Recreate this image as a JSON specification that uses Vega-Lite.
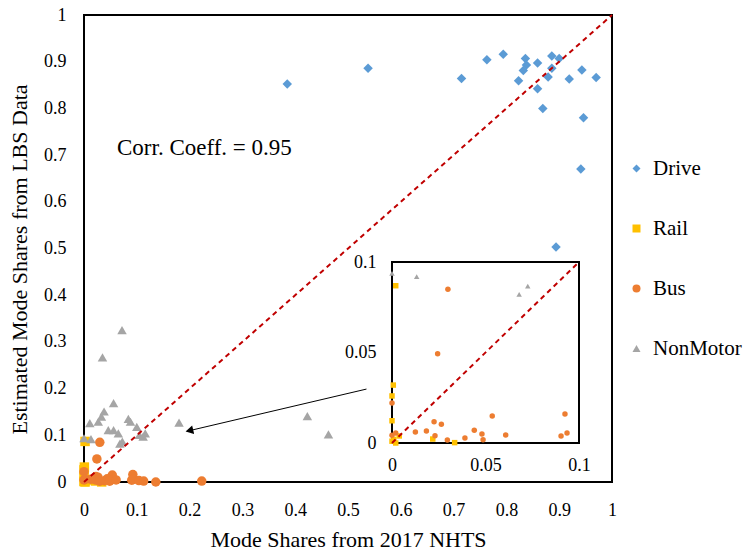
{
  "$schema": "https://vega.github.io/schema/vega-lite/v6.json",
  "width": 528,
  "height": 467,
  "autosize": "none",
  "padding": {"left": 84, "top": 15, "right": 139, "bottom": 70},
  "background": "white",
  "config": {
    "font": "Liberation Serif",
    "view": {"stroke": "black", "strokeWidth": 2},
    "axis": {
      "domain": false,
      "ticks": false,
      "grid": false,
      "labelFlush": false,
      "labelOverlap": false,
      "labelFont": "Liberation Serif",
      "labelFontSize": 18,
      "labelColor": "black",
      "titleFont": "Liberation Serif",
      "titleFontSize": 22,
      "titleFontWeight": "normal",
      "titleColor": "black"
    },
    "legend": {"labelFont": "Liberation Serif"}
  },
  "datasets": {
    "pts": [
      {"mode": "Drive", "x": 0.385, "y": 0.852},
      {"mode": "Drive", "x": 0.538, "y": 0.886},
      {"mode": "Drive", "x": 0.715, "y": 0.864},
      {"mode": "Drive", "x": 0.763, "y": 0.904},
      {"mode": "Drive", "x": 0.794, "y": 0.916},
      {"mode": "Drive", "x": 0.836, "y": 0.907},
      {"mode": "Drive", "x": 0.838, "y": 0.893},
      {"mode": "Drive", "x": 0.832, "y": 0.881},
      {"mode": "Drive", "x": 0.823, "y": 0.859},
      {"mode": "Drive", "x": 0.859, "y": 0.897},
      {"mode": "Drive", "x": 0.859, "y": 0.842},
      {"mode": "Drive", "x": 0.869, "y": 0.800},
      {"mode": "Drive", "x": 0.886, "y": 0.912},
      {"mode": "Drive", "x": 0.900, "y": 0.907},
      {"mode": "Drive", "x": 0.886, "y": 0.886},
      {"mode": "Drive", "x": 0.879, "y": 0.867},
      {"mode": "Drive", "x": 0.919, "y": 0.863},
      {"mode": "Drive", "x": 0.943, "y": 0.882},
      {"mode": "Drive", "x": 0.970, "y": 0.866},
      {"mode": "Drive", "x": 0.946, "y": 0.780},
      {"mode": "Drive", "x": 0.941, "y": 0.670},
      {"mode": "Drive", "x": 0.894, "y": 0.503},
      {"mode": "Rail", "x": 0.002, "y": 0.0869},
      {"mode": "Rail", "x": 0.0007, "y": 0.032},
      {"mode": "Rail", "x": 0.0, "y": 0.026},
      {"mode": "Rail", "x": 0.0, "y": 0.0123},
      {"mode": "Rail", "x": 0.0, "y": 0.001},
      {"mode": "Rail", "x": 0.002, "y": 0.0},
      {"mode": "Rail", "x": 0.001, "y": 0.002},
      {"mode": "Rail", "x": 0.0039, "y": 0.0039},
      {"mode": "Rail", "x": 0.0218, "y": 0.0022},
      {"mode": "Rail", "x": 0.0335, "y": 0.0002},
      {"mode": "Bus", "x": 0.0299, "y": 0.0849},
      {"mode": "Bus", "x": 0.0244, "y": 0.0493},
      {"mode": "Bus", "x": 0.0, "y": 0.0221},
      {"mode": "Bus", "x": 0.0536, "y": 0.0149},
      {"mode": "Bus", "x": 0.0925, "y": 0.016},
      {"mode": "Bus", "x": 0.0225, "y": 0.0118},
      {"mode": "Bus", "x": 0.0264, "y": 0.0103},
      {"mode": "Bus", "x": 0.0125, "y": 0.0061},
      {"mode": "Bus", "x": 0.0184, "y": 0.0066},
      {"mode": "Bus", "x": 0.0230, "y": 0.0040},
      {"mode": "Bus", "x": 0.0440, "y": 0.0070},
      {"mode": "Bus", "x": 0.0481, "y": 0.0050},
      {"mode": "Bus", "x": 0.0390, "y": 0.0028},
      {"mode": "Bus", "x": 0.0296, "y": 0.0017},
      {"mode": "Bus", "x": 0.0487, "y": 0.0018},
      {"mode": "Bus", "x": 0.0608, "y": 0.0044},
      {"mode": "Bus", "x": 0.0904, "y": 0.0039},
      {"mode": "Bus", "x": 0.0936, "y": 0.0055},
      {"mode": "Bus", "x": 0.0, "y": 0.0043},
      {"mode": "Bus", "x": 0.002, "y": 0.0055},
      {"mode": "Bus", "x": 0.104, "y": 0.003},
      {"mode": "Bus", "x": 0.113, "y": 0.002},
      {"mode": "Bus", "x": 0.136, "y": 0.0},
      {"mode": "Bus", "x": 0.223, "y": 0.002},
      {"mode": "NonMotor", "x": 0.072, "y": 0.325},
      {"mode": "NonMotor", "x": 0.035, "y": 0.267},
      {"mode": "NonMotor", "x": 0.056, "y": 0.169},
      {"mode": "NonMotor", "x": 0.038, "y": 0.151},
      {"mode": "NonMotor", "x": 0.033, "y": 0.140},
      {"mode": "NonMotor", "x": 0.011, "y": 0.126},
      {"mode": "NonMotor", "x": 0.027, "y": 0.129},
      {"mode": "NonMotor", "x": 0.084, "y": 0.135},
      {"mode": "NonMotor", "x": 0.088, "y": 0.129},
      {"mode": "NonMotor", "x": 0.046, "y": 0.111},
      {"mode": "NonMotor", "x": 0.056, "y": 0.111},
      {"mode": "NonMotor", "x": 0.065, "y": 0.104},
      {"mode": "NonMotor", "x": 0.100, "y": 0.118},
      {"mode": "NonMotor", "x": 0.105, "y": 0.101},
      {"mode": "NonMotor", "x": 0.116, "y": 0.104},
      {"mode": "NonMotor", "x": 0.112, "y": 0.097},
      {"mode": "NonMotor", "x": 0.180, "y": 0.127},
      {"mode": "NonMotor", "x": 0.423, "y": 0.141},
      {"mode": "NonMotor", "x": 0.463, "y": 0.102},
      {"mode": "NonMotor", "x": 0.0, "y": 0.0937},
      {"mode": "NonMotor", "x": 0.0132, "y": 0.0919},
      {"mode": "NonMotor", "x": 0.068, "y": 0.0821},
      {"mode": "NonMotor", "x": 0.0726, "y": 0.0867}
    ]
  },
  "layer": [
    {
      "layer": [
        {
          "data": {"name": "pts"},
          "mark": {"type": "point", "filled": true, "size": 90, "opacity": 1},
          "encoding": {
            "x": {
              "field": "x", "type": "quantitative",
              "scale": {"domain": [0, 1], "nice": false, "zero": false},
              "axis": {"title": "Mode Shares from 2017 NHTS", "values": [0, 0.1, 0.2, 0.3, 0.4, 0.5, 0.6, 0.7, 0.8, 0.9, 1], "format": "~g", "labelFlush": false, "labelPadding": 19, "titlePadding": 10}
            },
            "y": {
              "field": "y", "type": "quantitative",
              "scale": {"domain": [0, 1], "nice": false, "zero": false},
              "axis": {"title": "Estimated Mode Shares from LBS Data", "values": [0, 0.1, 0.2, 0.3, 0.4, 0.5, 0.6, 0.7, 0.8, 0.9, 1], "format": "~g", "labelFlush": false, "labelPadding": 18, "titlePadding": 12, "titleY": 244}
            },
            "color": {
              "field": "mode", "type": "nominal",
              "scale": {"domain": ["Drive", "Rail", "Bus", "NonMotor"], "range": ["#5B9BD5", "#FFC000", "#ED7D31", "#A5A5A5"]},
              "legend": {"title": null, "orient": "none", "legendX": 542, "legendY": 143, "labelFont": "Liberation Serif", "labelFontSize": 21, "labelColor": "black", "symbolSize": 64, "rowPadding": 38, "labelOffset": 6, "symbolStrokeWidth": 0, "labelLimit": 200}
            },
            "shape": {
              "field": "mode", "type": "nominal",
              "scale": {"domain": ["Drive", "Rail", "Bus", "NonMotor"], "range": ["diamond", "square", "circle", "triangle-up"]},
              "legend": {"title": null, "orient": "none", "legendX": 542, "legendY": 143, "labelFont": "Liberation Serif", "labelFontSize": 21, "labelColor": "black", "symbolSize": 64, "rowPadding": 38, "labelOffset": 6, "symbolStrokeWidth": 0, "labelLimit": 200}
            }
          }
        },
        {
          "data": {"values": [{}]},
          "mark": {"type": "rule", "color": "#C00000", "strokeWidth": 2, "strokeDash": [5, 4]},
          "encoding": {"x": {"datum": 0}, "y": {"datum": 0}, "x2": {"datum": 1}, "y2": {"datum": 1}}
        },
        {
          "data": {"values": [{}]},
          "mark": {"type": "text", "text": "Corr. Coeff. = 0.95", "fontSize": 23, "align": "left", "baseline": "middle", "color": "black", "font": "Liberation Serif"},
          "encoding": {"x": {"datum": 0.0625}, "y": {"datum": 0.715}}
        },
        {
          "data": {"values": [{}]},
          "mark": {"type": "rule", "color": "black", "strokeWidth": 1},
          "encoding": {"x": {"datum": 0.535}, "y": {"datum": 0.199}, "x2": {"datum": 0.196}, "y2": {"datum": 0.109}}
        },
        {
          "data": {"values": [{}]},
          "mark": {"type": "point", "shape": "triangle-left", "filled": true, "color": "black", "opacity": 1, "size": 80, "angle": 347},
          "encoding": {"x": {"datum": 0.1996}, "y": {"datum": 0.110}}
        }
      ]
    },
    {
      "layer": [
        {
          "data": {"values": [{}]},
          "mark": {"type": "rect", "fill": "white", "stroke": "black", "strokeWidth": 2},
          "encoding": {"x": {"datum": 0}, "x2": {"datum": 0.1}, "y": {"datum": 0}, "y2": {"datum": 0.1}}
        },
        {
          "data": {"name": "pts"},
          "transform": [{"filter": "datum.x <= 0.1 && datum.y <= 0.1"}],
          "mark": {"type": "point", "filled": true, "size": 30, "opacity": 1},
          "encoding": {
            "x": {
              "field": "x", "type": "quantitative",
              "scale": {"domain": [0, 0.1], "range": [308, 495], "nice": false, "zero": false},
              "axis": {"title": null, "orient": "bottom", "offset": -39, "values": [0, 0.05, 0.1], "format": "~g", "labelFlush": false, "labelPadding": 13}
            },
            "y": {
              "field": "y", "type": "quantitative",
              "scale": {"domain": [0, 0.1], "range": [428, 247], "nice": false, "zero": false},
              "axis": {"title": null, "orient": "left", "offset": -308, "values": [0, 0.05, 0.1], "format": "~g", "labelFlush": false, "labelPadding": 16}
            },
            "color": {"field": "mode", "type": "nominal"},
            "shape": {"field": "mode", "type": "nominal"}
          }
        },
        {
          "data": {"values": [{}]},
          "mark": {"type": "rule", "color": "#C00000", "strokeWidth": 2, "strokeDash": [5, 4]},
          "encoding": {"x": {"datum": 0}, "y": {"datum": 0}, "x2": {"datum": 0.1}, "y2": {"datum": 0.1}}
        }
      ]
    }
  ],
  "resolve": {"scale": {"x": "independent", "y": "independent"}}
}
